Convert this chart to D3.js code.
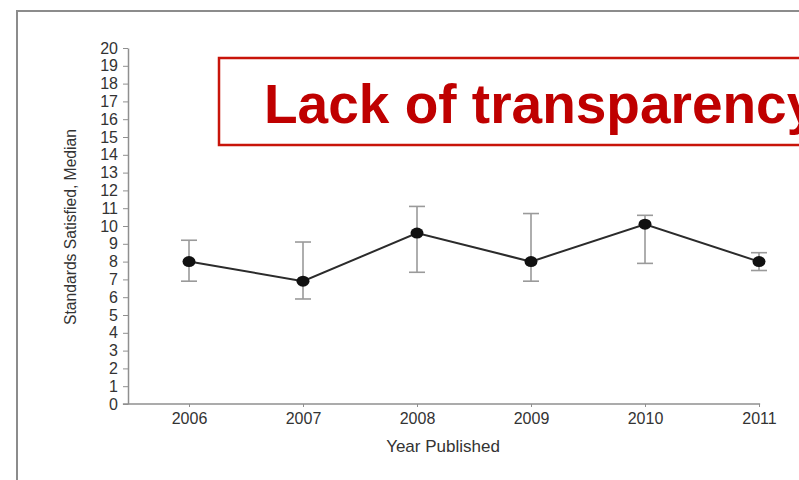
<!DOCTYPE html>
<html>
<head>
<meta charset="utf-8">
<script src="https://cdn.jsdelivr.net/npm/d3@7"></script>
<style>
  body { margin: 0; background: #fff; }
  svg { display: block; }
  text { font-family: "Liberation Sans", Arial, Helvetica, sans-serif; }
</style>
</head>
<body>
<svg id="chart" width="799" height="480"></svg>
<script>
'use strict';

// Data
const years = [2006, 2007, 2008, 2009, 2010, 2011];
const medians = [8.0, 6.9, 9.6, 8.0, 10.1, 8.0];
const lowers = [6.9, 5.9, 7.4, 6.9, 7.9, 7.5];
const uppers = [9.2, 9.1, 11.1, 10.7, 10.6, 8.5];
const yTicks = d3.range(0, 21);

const title = 'Lack of transparency';
const xLabel = 'Year Published';
const yLabel = 'Standards Satisfied, Median';

const points = years.map((year, i) => ({
    year: year,
    median: medians[i],
    lower: lowers[i],
    upper: uppers[i]
}));

const svg = d3.select('#chart');

// Slide frame (grey border at top and left)
svg.append('path')
   .attr('d', 'M17,480 V11 H799')
   .attr('fill', 'none')
   .attr('stroke', '#8c8c8c')
   .attr('stroke-width', 2);

// Scales
const x = d3.scaleLinear()
    .domain([2006, 2011])
    .range([189, 759]);

const y = d3.scaleLinear()
    .domain([0, 20])
    .range([404, 48]);

const axisColor = '#8f8f8f';
const textColor = '#333';

// Y axis
const yAxis = svg.append('g')
    .attr('transform', 'translate(128, 0)')
    .call(d3.axisLeft(y).tickValues(yTicks).tickSize(5).tickSizeOuter(0).tickPadding(5));

yAxis.select('.domain').attr('stroke', axisColor).attr('stroke-width', 1.5);
yAxis.selectAll('.tick line').attr('stroke', axisColor);
yAxis.selectAll('.tick text')
     .attr('fill', textColor)
     .attr('font-size', 16)
     .attr('font-family', '"Liberation Sans", Arial, sans-serif');

// X axis
const xAxis = svg.append('g')
    .attr('transform', 'translate(0, 404)')
    .call(d3.axisBottom(x).tickValues(years).tickFormat(d3.format('d')).tickSize(3).tickSizeOuter(0).tickPadding(6));

xAxis.select('.domain')
     .attr('d', `M${x(2005.42)},0 H${x(2011.01)}`)
     .attr('stroke', axisColor)
     .attr('stroke-width', 1.5);
xAxis.selectAll('.tick line').attr('stroke', axisColor);
xAxis.selectAll('.tick text')
     .attr('fill', textColor)
     .attr('font-size', 16)
     .attr('font-family', '"Liberation Sans", Arial, sans-serif');

// Axis titles
svg.append('text')
   .attr('x', 443)
   .attr('y', 452)
   .attr('text-anchor', 'middle')
   .attr('font-size', 17)
   .attr('fill', textColor)
   .text(xLabel);

svg.append('text')
   .attr('transform', 'translate(76, 227) rotate(-90)')
   .attr('text-anchor', 'middle')
   .attr('font-size', 16)
   .attr('textLength', 196)
   .attr('lengthAdjust', 'spacingAndGlyphs')
   .attr('fill', textColor)
   .text(yLabel);

// Error bars
const bars = svg.append('g')
    .selectAll('g')
    .data(points)
    .enter()
    .append('g')
      .attr('stroke', '#9a9a9a')
      .attr('stroke-width', 1.6);

bars.append('line')
    .attr('x1', d => x(d.year))
    .attr('x2', d => x(d.year))
    .attr('y1', d => y(d.lower))
    .attr('y2', d => y(d.upper));

bars.append('line')
    .attr('x1', d => x(d.year) - 8)
    .attr('x2', d => x(d.year) + 8)
    .attr('y1', d => y(d.upper))
    .attr('y2', d => y(d.upper));

bars.append('line')
    .attr('x1', d => x(d.year) - 8)
    .attr('x2', d => x(d.year) + 8)
    .attr('y1', d => y(d.lower))
    .attr('y2', d => y(d.lower));

// Median line
const line = d3.line()
    .x(d => x(d.year))
    .y(d => y(d.median));

svg.append('path')
   .datum(points)
   .attr('d', line)
   .attr('fill', 'none')
   .attr('stroke', '#2b2b2b')
   .attr('stroke-width', 2);

// Median markers
svg.append('g')
   .selectAll('ellipse')
   .data(points)
   .enter()
   .append('ellipse')
     .attr('cx', d => x(d.year))
     .attr('cy', d => y(d.median))
     .attr('rx', 6.5)
     .attr('ry', 5.5)
     .attr('fill', '#111');

// Red title box
svg.append('rect')
   .attr('x', 219)
   .attr('y', 58)
   .attr('width', 620)
   .attr('height', 87)
   .attr('fill', '#fff')
   .attr('stroke', '#c8140a')
   .attr('stroke-width', 2.5);

svg.append('text')
   .attr('x', 264)
   .attr('y', 123)
   .attr('font-size', 55)
   .attr('font-weight', 'bold')
   .attr('fill', '#bf0000')
   .text(title);
</script>
</body>
</html>
